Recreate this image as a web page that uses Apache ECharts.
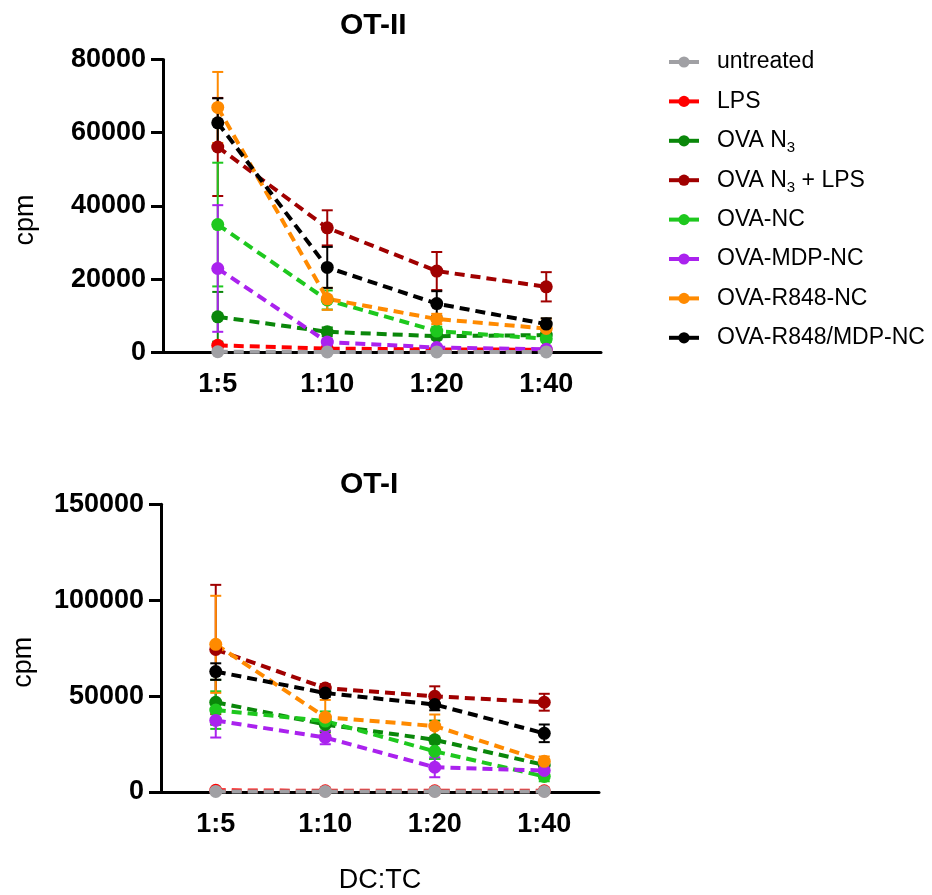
<!DOCTYPE html>
<html>
<head>
<meta charset="utf-8">
<script src="https://cdn.jsdelivr.net/npm/echarts@6/dist/echarts.min.js"></script>
<style>
  html, body { margin: 0; padding: 0; background: #fff; }
  #chart { width: 932px; height: 895px; }
</style>
</head>
<body>
<div id="chart"></div>
<script>
// DC:TC ratios on the x axis
const categories = ['1:5', '1:10', '1:20', '1:40'];

// treatment groups (legend order) and their colours
const groupNames = ['untreated', 'LPS', 'OVA N3', 'OVA N3 + LPS', 'OVA-NC', 'OVA-MDP-NC', 'OVA-R848-NC', 'OVA-R848/MDP-NC'];
const groupColors = ['#A0A0A4', '#FF0000', '#0A870A', '#A00000', '#1EC81E', '#AA22EE', '#FF8A00', '#000000'];

// OT-II proliferation, mean cpm per group (rows follow groupNames)
const otIIMeans = [
  [150, 100, 100, 100],
  [1900, 1000, 800, 700],
  [9700, 5600, 4400, 4700],
  [56100, 34000, 22200, 17900],
  [34900, 14300, 5800, 3700],
  [22900, 2800, 1300, 800],
  [66900, 14600, 9100, 6500],
  [62700, 23200, 13300, 7700]
];
// OT-II error (± cpm)
const otIIErrors = [
  [100, 100, 100, 100],
  [600, 300, 300, 300],
  [6800, 1200, 900, 800],
  [13400, 4800, 5200, 4000],
  [16900, 2600, 1200, 900],
  [17300, 900, 500, 300],
  [9700, 3000, 1400, 2700],
  [6700, 5600, 3400, 1600]
];

// OT-I proliferation, mean cpm per group
const otIMeans = [
  [300, 300, 300, 300],
  [900, 600, 600, 600],
  [46800, 35200, 27200, 14100],
  [74300, 54200, 49900, 46800],
  [42700, 37000, 21200, 8100],
  [37300, 28400, 12900, 11200],
  [77000, 39000, 34400, 16000],
  [62800, 51600, 45600, 30600]
];
// OT-I error (± cpm)
const otIErrors = [
  [200, 200, 200, 200],
  [300, 300, 300, 300],
  [11700, 4000, 10000, 3000],
  [33700, 2000, 5200, 4400],
  [9800, 5000, 4000, 2500],
  [8900, 3500, 5200, 1500],
  [25300, 9000, 6000, 2500],
  [4300, 2000, 3000, 4600]
];

// y-axis ticks for each panel
const otIIYTicks = [0, 20000, 40000, 60000, 80000];
const otIYTicks = [0, 50000, 100000, 150000];

const FONT = "'Liberation Sans', Arial, sans-serif";

// legend label: subscript the "3" of N3
function legendLabel(name) {
  if (name.indexOf('N3') >= 0) {
    const parts = name.split('N3');
    return parts[0] + 'N{sub|3}' + parts[1];
  }
  return name;
}

function axisPair(gridIndex, ticks, showName) {
  const x = {
    type: 'category',
    gridIndex: gridIndex,
    data: categories,
    boundaryGap: true,
    axisLine: { lineStyle: { color: '#000', width: 3 } },
    axisTick: { alignWithLabel: true, length: 11, lineStyle: { color: '#000', width: 3 } },
    axisLabel: { color: '#000', fontFamily: FONT, fontWeight: 'bold', fontSize: 27, margin: 19 },
    splitLine: { show: false }
  };
  if (showName) {
    Object.assign(x, {
      name: 'DC:TC', nameLocation: 'middle', nameGap: 75,
      nameTextStyle: { color: '#000', fontFamily: FONT, fontSize: 27 }
    });
  }
  const y = {
    type: 'value',
    gridIndex: gridIndex,
    min: ticks[0],
    max: ticks[ticks.length - 1],
    interval: ticks[1] - ticks[0],
    name: 'cpm', nameLocation: 'middle', nameGap: 124,
    nameTextStyle: { color: '#000', fontFamily: FONT, fontSize: 27, padding: [0, 28, 0, 0] },
    axisLine: { show: true, lineStyle: { color: '#000', width: 3 } },
    axisTick: { show: true, length: 12, lineStyle: { color: '#000', width: 3 } },
    axisLabel: {
      color: '#000', fontFamily: FONT, fontWeight: 'bold', fontSize: 27, margin: 17,
      formatter: function (v) { return String(v); }
    },
    splitLine: { show: false }
  };
  return [x, y];
}

function panelSeries(axisIndex, means, errors) {
  const lines = [];
  const bars = [];
  // untreated is drawn last so it sits on top of the LPS trace
  const order = [1, 2, 3, 4, 5, 6, 7, 0];
  order.forEach(function (g) {
    lines.push({
      type: 'line',
      name: groupNames[g],
      xAxisIndex: axisIndex,
      yAxisIndex: axisIndex,
      data: means[g],
      symbol: 'circle',
      symbolSize: 13,
      z: g === 0 ? 4 : 3,
      itemStyle: { color: groupColors[g] },
      lineStyle: { color: groupColors[g], width: 4, type: [10, 6] },
      emphasis: { disabled: true },
      animation: false
    });
    bars.push({
      type: 'custom',
      name: groupNames[g],
      xAxisIndex: axisIndex,
      yAxisIndex: axisIndex,
      z: 2,
      data: means[g].map(function (v, i) { return [i, v, errors[g][i]]; }),
      encode: { x: 0, y: 1 },
      renderItem: function (params, api) {
        const i = api.value(0), v = api.value(1), e = api.value(2);
        const top = api.coord([i, v + e]);
        const bot = api.coord([i, v - e]);
        const half = 5.5;
        const style = { stroke: groupColors[g], lineWidth: 2 };
        return {
          type: 'group',
          children: [
            { type: 'line', shape: { x1: top[0], y1: top[1], x2: bot[0], y2: bot[1] }, style: style },
            { type: 'line', shape: { x1: top[0] - half, y1: top[1], x2: top[0] + half, y2: top[1] }, style: style },
            { type: 'line', shape: { x1: bot[0] - half, y1: bot[1], x2: bot[0] + half, y2: bot[1] }, style: style }
          ]
        };
      },
      animation: false
    });
  });
  return lines.concat(bars);
}

const topAxes = axisPair(0, otIIYTicks, false);
const botAxes = axisPair(1, otIYTicks, true);

const chart = echarts.init(document.getElementById('chart'), null, { renderer: 'canvas' });
chart.setOption({
  backgroundColor: '#fff',
  animation: false,
  textStyle: { fontFamily: FONT },
  title: [
    { text: 'OT-II', left: 335, top: 6, textStyle: { fontFamily: FONT, fontWeight: 'bold', fontSize: 30, color: '#000' } },
    { text: 'OT-I', left: 335, top: 465, textStyle: { fontFamily: FONT, fontWeight: 'bold', fontSize: 30, color: '#000' } }
  ],
  legend: {
    orient: 'vertical',
    left: 667,
    top: 47,
    padding: 0,
    data: groupNames,
    itemWidth: 30,
    itemHeight: 14,
    itemGap: 9.4,
    lineStyle: { type: 'solid', width: 4 },
    formatter: legendLabel,
    selectedMode: false,
    textStyle: {
      color: '#000', fontFamily: FONT, fontSize: 23, lineHeight: 30,
      padding: [0, 0, 0, 13],
      rich: {
        sub: { fontFamily: FONT, fontSize: 15, lineHeight: 15, padding: [15, 0, 0, 0], color: '#000' }
      }
    }
  },
  grid: [
    { left: 163, top: 59.5, width: 438, height: 292.8 },
    { left: 161, top: 504.3, width: 438, height: 291.4 }
  ],
  xAxis: [topAxes[0], botAxes[0]],
  yAxis: [topAxes[1], botAxes[1]],
  series: panelSeries(0, otIIMeans, otIIErrors).concat(panelSeries(1, otIMeans, otIErrors))
});
</script>
</body>
</html>
